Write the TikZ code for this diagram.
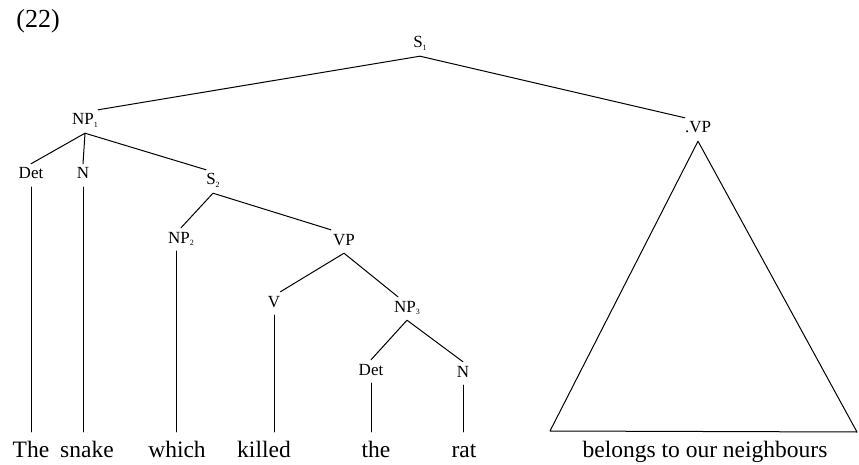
\documentclass[tikz,border=0pt]{standalone}
\usepackage{fontspec}
\setmainfont{Liberation Serif}
\newcommand{\lsub}[1]{\raisebox{-0.35ex}{\fontsize{8}{8}\selectfont #1}}
\begin{document}
\begin{tikzpicture}[x=1pt,y=-1pt,
  cat/.style={font=\fontsize{17}{17}\selectfont, inner sep=0pt,
              text height=15pt, text depth=8pt, anchor=base},
  word/.style={font=\fontsize{23.5}{23.5}\selectfont, inner sep=0pt,
               text height=25pt, text depth=6pt, anchor=base},
  branch/.style={line width=1pt, line cap=round, line join=round}]
\useasboundingbox (0,0) rectangle (859,465);

% example number
\node[anchor=base, inner sep=0pt, font=\fontsize{26}{26}\selectfont] (num) at (38,28) {(22)};

% category labels
\node[cat] (S1)   at (420,48)  {S\lsub{1}};
\node[cat] (NP1)  at (85,125)  {NP\lsub{1}};
\node[cat] (Det1) at (31,179)  {Det};
\node[cat] (N1)   at (83,179)  {N};
\node[cat] (S2)   at (213,185) {S\lsub{2}};
\node[cat] (NP2)  at (181,243) {NP\lsub{2}};
\node[cat] (VP1)  at (344,245) {VP};
\node[cat] (V)    at (274,307) {V};
\node[cat] (NP3)  at (407,312) {NP\lsub{3}};
\node[cat] (Det2) at (371,375) {Det};
\node[cat] (N2)   at (463,377) {N};
\node[cat] (VP2)  at (698,133) {.VP};

% terminal words
\node[word] (w1) at (31,457)  {The};
\node[word] (w2) at (87,457)  {snake};
\node[word] (w3) at (177,457) {which};
\node[word] (w4) at (264,457) {killed};
\node[word] (w5) at (376,457) {the};
\node[word] (w6) at (464,457) {rat};
\node[word] (w7) at (705,457) {belongs to our neighbours};

% base corners of the abbreviated VP
\coordinate (tl) at (550,431);
\coordinate (tr) at (857,432);

% branches
\draw[branch] (NP1.north east) -- (S1.south) -- (VP2.north west);
\draw[branch] (Det1.north) -- (NP1.south) -- (N1.north);
\draw[branch] (NP1.south) -- (S2.north west);
\draw[branch] (NP2.north) -- (S2.south) -- ([xshift=-2pt]VP1.north west);
\draw[branch] (V.north east) -- (VP1.south) -- ([xshift=4pt]NP3.north west);
\draw[branch] (Det2.north) -- (NP3.south) -- (N2.north);

% vertical branches to the words
\draw[branch] (Det1.south) -- (Det1.south |- w1.north);
\draw[branch] (N1.south) -- (N1.south |- w2.north);
\draw[branch] ([xshift=-5pt]NP2.south) -- ([xshift=-5pt]NP2.south |- w3.north);
\draw[branch] (V.south) -- (V.south |- w4.north);
\draw[branch] (Det2.south) -- (Det2.south |- w5.north);
\draw[branch] (N2.south) -- (N2.south |- w6.north);

% triangle for the unanalysed VP
\draw[branch] (VP2.south) -- (tl) -- (tr) -- cycle;
\end{tikzpicture}
\end{document}
